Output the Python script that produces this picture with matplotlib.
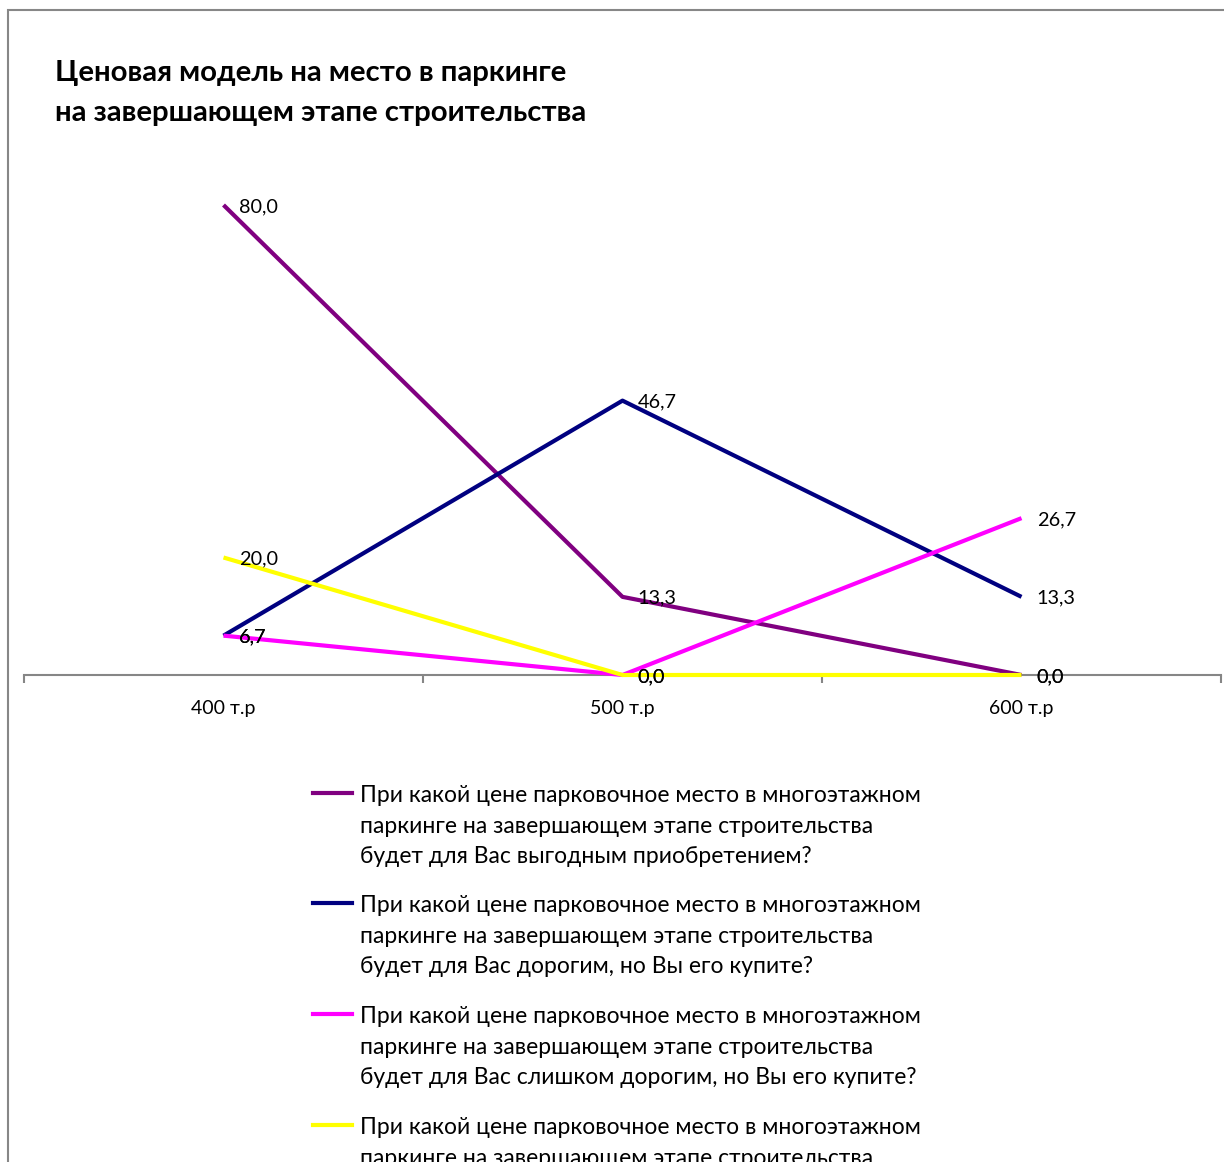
import matplotlib
matplotlib.use("Agg")
import matplotlib.pyplot as plt
from matplotlib.lines import Line2D
from matplotlib.patches import Rectangle

categories = ["400 т.р", "500 т.р", "600 т.р"]
s_profitable = [80.0, 13.3, 0.0]
s_expensive = [6.7, 46.7, 13.3]
s_too_expensive = [6.7, 0.0, 26.7]
s_cheap = [20.0, 0.0, 0.0]

labels = [
    "При какой цене парковочное место в многоэтажном\nпаркинге на завершающем этапе строительства\nбудет для Вас выгодным приобретением?",
    "При какой цене парковочное место в многоэтажном\nпаркинге на завершающем этапе строительства\nбудет для Вас дорогим, но Вы его купите?",
    "При какой цене парковочное место в многоэтажном\nпаркинге на завершающем этапе строительства\nбудет для Вас слишком дорогим, но Вы его купите?",
    "При какой цене парковочное место в многоэтажном\nпаркинге на завершающем этапе строительства\nбудет для Вас слишком дешевым?",
]
title = "Ценовая модель на место в паркинге\nна завершающем этапе строительства"

series = [s_profitable, s_expensive, s_too_expensive, s_cheap]
colors = ["#800080", "#000080", "#FF00FF", "#FFFF00"]

FONT = ["Lato", "DejaVu Sans"]
plt.rcParams["font.family"] = FONT

W, H = 1224, 1162
fig = plt.figure(figsize=(W / 100, H / 100), dpi=100)

def px(x, y):
    return x / W, 1 - y / H

# outer frame
fig.patches.append(Rectangle(px(8, 1300), (1400) / W, (1290) / H,
                             transform=fig.transFigure, fill=False,
                             edgecolor="#878787", linewidth=1.5))

# axes
left, _ = px(24, 0)
right, _ = px(1221, 0)
_, bottom = px(0, 675)
_, top = px(0, 146.25)
ax = fig.add_axes([left, bottom, right - left, top - bottom])
ax.set_xlim(0.5, 3.5)
ax.set_ylim(0, 90)
for sp in ["top", "right", "left"]:
    ax.spines[sp].set_visible(False)
ax.spines["bottom"].set_color("#868686")
ax.spines["bottom"].set_linewidth(1.5)
ax.spines["bottom"].set_zorder(1)
ax.set_yticks([])
xs = [1, 2, 3]
ax.set_xticks([0.5, 1.5, 2.5, 3.5])
ax.set_xticklabels([])
ax.tick_params(axis="x", direction="out", length=6, width=1.5, color="#868686")
ax.set_xticks(xs, minor=True)
ax.set_xticklabels(categories, minor=True, fontsize=14)
ax.tick_params(axis="x", which="minor", length=0, pad=18)
ax.patch.set_visible(False)

for vals, c in zip(series, colors):
    ax.plot(xs, vals, color=c, linewidth=3, solid_capstyle="butt", zorder=3, clip_on=False)
for vals in series:
    for x, v in zip(xs, vals):
        ax.annotate(f"{v:.1f}".replace(".", ","), (x, v), xytext=(11, -1),
                    textcoords="offset points", fontsize=14.3, va="center", ha="left",
                    zorder=5)

# title
fig.text(*px(55, 93), title, fontsize=21.2, fontweight="bold", ha="left", va="center",
         linespacing=1.68)

# legend (manual, clipped at bottom as in the reference)
entry_y = [793, 903, 1014, 1125]
for lab, c, y in zip(labels, colors, entry_y):
    fig.add_artist(Line2D([313 / W, 352 / W], [1 - y / H, 1 - y / H], color=c,
                          linewidth=3, transform=fig.transFigure))
    fig.text(360 / W, 1 - (y - 8) / H, lab, fontsize=16.5, ha="left", va="top",
             linespacing=1.56)

fig.savefig("out.png", dpi=100)
